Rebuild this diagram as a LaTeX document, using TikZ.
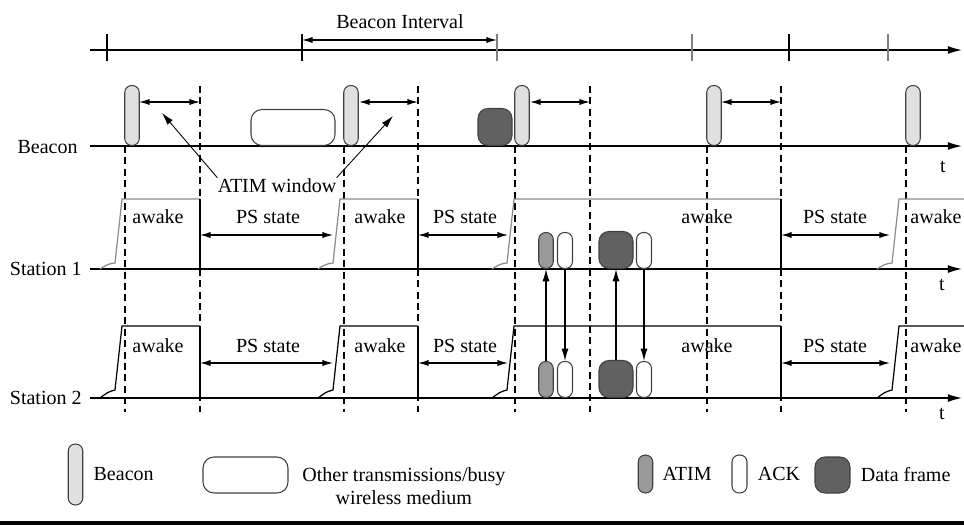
\documentclass[tikz,border=0pt]{standalone}
\usepackage{fontspec}
\setmainfont{Liberation Serif}
\usepackage{tikz}
\usetikzlibrary{positioning,arrows.meta}

\begin{document}
\begin{tikzpicture}[x=0.02cm,y=-0.02cm,
    every node/.style={inner sep=0pt,font=\fontsize{11.4}{13}\selectfont},
    time axis/.style={line width=0.8pt,-{Latex[length=8pt,width=4.5pt]}},
    span/.style={line width=0.7pt,{Latex[length=6pt,width=3.5pt]}-{Latex[length=6pt,width=3.5pt]}},
    pointer/.style={line width=0.5pt,-{Latex[length=7pt,width=4pt]}},
    exchange/.style={line width=0.7pt,-{Latex[length=7pt,width=4pt]}},
    slot/.style={line width=0.6pt,dash pattern=on 4pt off 2.5pt},
    pkt/.style={draw=black!75,line width=0.6pt,anchor=south},
    beacon frame/.style={pkt,fill=black!12,minimum width=0.29cm,minimum height=1.2cm,rounded corners=0.14cm},
    atim frame/.style={pkt,fill=black!40,minimum width=0.29cm,minimum height=0.72cm,rounded corners=0.14cm},
    ack frame/.style={pkt,fill=white,minimum width=0.3cm,minimum height=0.72cm,rounded corners=0.14cm},
    data frame/.style={pkt,fill=black!62,minimum width=0.68cm,minimum height=0.74cm,rounded corners=0.2cm},
    busy frame/.style={pkt,fill=white,minimum width=1.68cm,minimum height=0.72cm,rounded corners=0.22cm},
    state/.style={anchor=base}]
\useasboundingbox (0,0) rectangle (964,525);

% time lines
\coordinate (top) at (90,50);
\coordinate (bline) at (90,146);
\coordinate (s1) at (90,269);
\coordinate (s2) at (90,398);
\draw[time axis] (top) -- (962,50);
\foreach \x/\c in {107/black,302/black,497/black!50,692/black!50,789/black,888/black!50}
  \draw[line width=0.7pt,\c] (\x,34) -- (\x,61);
\draw[span] (302,40) -- (497,40);
\node[anchor=base] (lint) at (400,28) {Beacon Interval};

% slot borders
\foreach \x in {125,344,515,707,906}
  \draw[slot] (\x,146) -- (\x,412);
\foreach \x in {200,418,590,781}
  \draw[slot] (\x,86) -- (\x,412);

\draw[time axis] (bline) -- (962,146);
\draw[time axis] (s1) -- (962,269);
\draw[time axis] (s2) -- (962,398);

\node[anchor=base east] (lbeacon) at (78,153) {Beacon};
\node[anchor=base east] (lsta1) at (82,275) {Station 1};
\node[anchor=base east] (lsta2) at (82,404) {Station 2};
\node[anchor=base] (t0) at (943,172) {t};
\node[anchor=base] (t1) at (942,290) {t};
\node[anchor=base] (t2) at (942,419) {t};

% awake / power save
\foreach \a/\b in {100/200,318/418,492/781,877/970}{
  \draw[line width=0.7pt,black!45] (\a,269) .. controls (\a+8,264) .. (\a+15,263) -- (\a+22,199) -- (\b,199);
  \draw[line width=0.7pt] (\a,398) .. controls (\a+8,392) .. (\a+15,390) -- (\a+22,326) -- (\b,326);
}
\foreach \x in {200,418,781}{
  \draw[line width=0.7pt] (\x,199) -- (\x,269);
  \draw[line width=0.7pt] (\x,326) -- (\x,398);
}
\foreach \y in {223,352}
  \foreach \x/\txt [count=\i] in {158/awake,268/PS state,380/awake,465/PS state,707/awake,835/PS state,936/awake}
    \node[state] (st\y-\i) at (\x,\y) {\txt};
\foreach \y in {235,363}{
  \draw[span] (200,\y) -- (333,\y);
  \draw[span] (418,\y) -- (508,\y);
  \draw[span] (781,\y) -- (890,\y);
}

% beacons and ATIM windows
\foreach \x [count=\i] in {132,351,522,714,913}
  \node[beacon frame] (bcn\i) at (\x,146) {};
\node[busy frame] (busy) at (293,146) {};
\node[data frame] (bdata) at (495,146) {};
\foreach \a/\b in {139/200,359/418,530/590,721/781}
  \draw[span] (\a,102) -- (\b,102);
\node[anchor=base] (latim) at (277,192) {ATIM window};
\draw[pointer] (latim.north west) -- (162,113);
\draw[pointer] (latim.north east) -- (393,116);

% frames of the two stations
\node[atim frame] (atim1) at (546,269) {};
\node[ack frame] (ack1) at (565,269) {};
\node[data frame] (data1) at (616,269) {};
\node[ack frame] (dack1) at (644,269) {};
\node[atim frame] (atim2) at (546,398) {};
\node[ack frame] (ack2) at (565,398) {};
\node[data frame] (data2) at (616,398) {};
\node[ack frame] (dack2) at (644,398) {};

\draw[exchange] (atim2.north) -- (atim2.north |- s1);
\draw[exchange] (ack1.south) -- (ack2.north);
\draw[exchange] (data2.north) -- (data2.north |- s1);
\draw[exchange] (dack1.south) -- (dack2.north);

% legend
\node[beacon frame,anchor=center,minimum height=1.22cm] (kbeacon) at (75.5,474.5) {};
\node[right=0.2cm of kbeacon] (tbeacon) {Beacon};
\node[busy frame,anchor=center,minimum width=1.7cm] (kbusy) at (245.5,475) {};
\node[anchor=west,align=center] (tbusy) at (302,486) {Other transmissions/busy\\wireless medium};
\node[atim frame,anchor=center,minimum height=0.76cm] (katim) at (645.5,474) {};
\node[right=0.18cm of katim] (tatim) {ATIM};
\node[ack frame,anchor=center,minimum height=0.76cm] (kack) at (739.5,474) {};
\node[right=0.2cm of kack] (tack) {ACK};
\node[data frame,anchor=center,minimum width=0.7cm,minimum height=0.72cm] (kdata) at (832.5,475) {};
\node[right=0.2cm of kdata] (tdata) {Data frame};

\draw[line width=2.3pt] (0,523) -- (964,523);
\end{tikzpicture}
\end{document}
